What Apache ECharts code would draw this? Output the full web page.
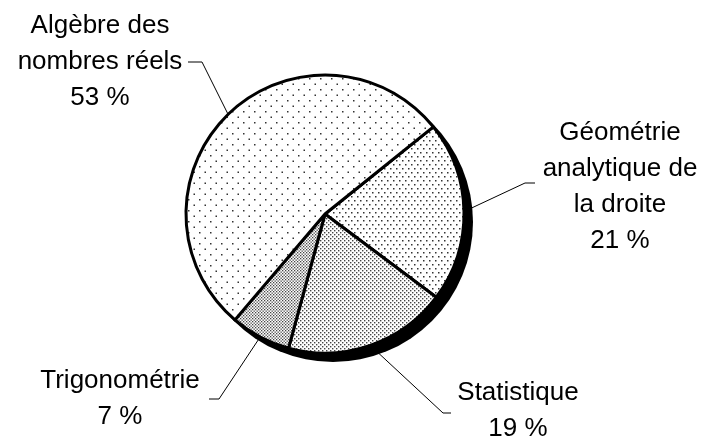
<!DOCTYPE html>
<html>
<head>
<meta charset="utf-8">
<script src="https://cdn.jsdelivr.net/npm/echarts@6/dist/echarts.min.js"></script>
<style>
  body { margin: 0; background: #fff; }
  #chart { width: 701px; height: 440px; }
</style>
</head>
<body>
<div id="chart"></div>
<script>
// données, dans l'ordre horaire à partir de la ligne en haut à droite
var categories = ['Géométrie\nanalytique de\nla droite', 'Statistique', 'Trigonométrie', 'Algèbre des\nnombres réels'];
var percents = [21, 19, 7, 53];

// petites trames de points (fond blanc)
function trame(w, h, pts, size, color) {
    var c = document.createElement('canvas');
    c.width = w; c.height = h;
    var ctx = c.getContext('2d');
    ctx.fillStyle = '#fff';
    ctx.fillRect(0, 0, w, h);
    ctx.fillStyle = color;
    pts.forEach(function (p) { ctx.fillRect(p[0], p[1], size, size); });
    return { image: c, repeat: 'repeat' };
}
var fills = [
    trame(6, 8, [[0, 0], [3, 4]], 1.5, '#333'),
    trame(4, 4, [[0, 0], [2, 2]], 1.4, '#444'),
    trame(3, 3, [[0, 0], [1.5, 1.5]], 1.3, '#444'),
    trame(11, 11, [[1, 1], [6.5, 6.5]], 1.5, '#333')
];

// position des étiquettes et des traits de rappel
var labelPos = [
    { x: 620, y: 187, bend: [525, 183], end: [535, 183] },
    { x: 518, y: 411, bend: [443, 413], end: [451, 413] },
    { x: 120, y: 399, bend: [219, 399], end: [209, 399] },
    { x: 100, y: 62, bend: [202, 62], end: [188, 62] }
];

var myChart = echarts.init(document.getElementById('chart'));

var option = {
    animation: false,
    textStyle: { fontFamily: 'Liberation Sans, Arial, sans-serif' },
    series: [
        {
            // ombre
            type: 'pie',
            silent: true,
            center: [333, 222],
            radius: 140,
            label: { show: false },
            labelLine: { show: false },
            itemStyle: { color: '#000' },
            z: 1,
            data: [{ value: 1, name: '' }]
        },
        {
            type: 'pie',
            center: [325, 214],
            radius: 139,
            startAngle: 38.8,
            clockwise: true,
            percentPrecision: 0,
            avoidLabelOverlap: false,
            z: 2,
            itemStyle: { borderColor: '#000', borderWidth: 3 },
            emphasis: { disabled: true },
            label: {
                show: true,
                position: 'outside',
                formatter: '{b}\n{d} %',
                color: '#000',
                fontSize: 26,
                lineHeight: 36,
                fontFamily: 'Liberation Sans, Arial, sans-serif',
                align: 'center'
            },
            labelLine: { show: true, lineStyle: { color: '#000', width: 1 } },
            labelLayout: function (p) {
                var s = labelPos[p.dataIndex];
                var start = p.labelLinePoints ? p.labelLinePoints[0] : s.bend;
                return {
                    x: s.x,
                    y: s.y,
                    align: 'center',
                    verticalAlign: 'middle',
                    labelLinePoints: [start, s.bend, s.end]
                };
            },
            data: categories.map(function (name, i) {
                return { name: name, value: percents[i], itemStyle: { color: fills[i] } };
            })
        }
    ]
};

myChart.setOption(option);
</script>
</body>
</html>
